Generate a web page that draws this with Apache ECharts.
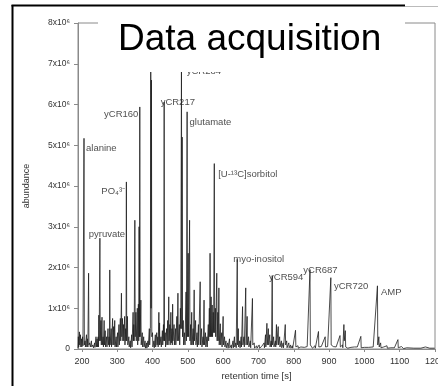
<!DOCTYPE html>
<html>
<head>
<meta charset="utf-8">
<script src="https://cdn.jsdelivr.net/npm/echarts@6/dist/echarts.min.js"></script>
<style>
html,body{margin:0;padding:0;background:#fff;}
#chart{width:438px;height:386px;}
</style>
</head>
<body>
<div id="chart"></div>
<script>
// retention time [s] , abundance [x10^6]
var chromatogram = [
[189,0.02],[190,0.3],[191,0.05],[193,0.42],[194,0.1],[196,0.35],[197,0.05],[199,0.25],[200,0.05],[202,0.3],[203,0.08],[204,0.1],[206,5.17],[207,0.1],[209,0.2],[210,0.05],[213,0.35],[214,0.05],[216,0.25],[217,0.05],[219,1.86],[220,0.1],[222,0.15],[224,0.05],[227,0.2],[228,0.05],[231,0.1],[233,0.03],[236,0.15],[237,0.04],[240,0.3],[241,0.05],[243,0.25],[244,0.05],[246,0.3],[247,0.05],[248,0.83],[249,0.2],[251,2.72],[252,0.2],[254,0.7],[255,0.1],[257,0.78],[258,0.1],[260,0.3],[261,0.05],[263,0.7],[264,0.1],[266,0.45],[267,0.05],[270,0.3],[271,0.05],[274,0.5],[275,0.1],[277,0.3],[278,0.05],[279,1.94],[280,0.1],[283,0.5],[284,0.05],[287,0.75],[288,0.1],[290,0.55],[291,0.1],[293,0.7],[294,0.05],[297,0.3],[298,0.05],[301,0.4],[302,0.05],[305,0.6],[306,0.1],[309,0.75],[310,0.2],[312,1.37],[313,0.3],[315,0.75],[316,0.2],[318,0.6],[319,0.2],[321,0.8],[322,0.1],[324,0.5],[325,0.2],[326,4.1],[327,0.2],[329,0.8],[330,0.1],[333,0.3],[334,0.05],[337,0.2],[338,0.03],[341,0.35],[342,0.05],[345,0.9],[346,0.2],[347,0.6],[348,0.2],[350,3.16],[351,0.3],[353,0.9],[354,0.2],[357,1.0],[358,0.1],[360,1.1],[361,0.2],[362,3.0],[363,0.3],[364,5.94],[365,0.3],[367,1.2],[368,0.1],[371,0.4],[372,0.05],[375,0.3],[376,0.05],[379,0.2],[380,0.02],[383,0.15],[384,0.02],[387,0.2],[388,0.05],[391,0.5],[392,0.1],[394,0.5],[395,6.9],[396,1.0],[397,6.6],[398,0.3],[400,0.4],[401,0.05],[404,0.2],[405,0.03],[408,0.35],[409,0.05],[412,0.4],[413,0.1],[415,0.3],[416,0.05],[418,0.9],[419,0.1],[420,0.64],[421,0.1],[424,0.3],[425,0.05],[428,0.45],[429,0.1],[431,0.6],[432,0.2],[433,6.06],[434,0.2],[436,0.4],[437,0.05],[440,0.5],[441,0.1],[443,0.7],[444,0.1],[446,1.28],[447,0.2],[449,0.6],[450,0.1],[452,0.9],[453,0.15],[455,0.5],[456,0.1],[457,1.1],[458,0.2],[461,0.6],[462,0.1],[465,0.5],[466,0.1],[469,0.8],[470,0.2],[472,1.37],[473,0.2],[476,0.6],[477,0.1],[479,1.0],[480,0.5],[482,7.0],[483,0.5],[484,5.2],[485,0.3],[487,0.7],[488,0.1],[491,0.4],[492,0.1],[495,1.4],[496,0.2],[498,5.82],[499,0.3],[501,2.35],[502,0.3],[505,3.16],[506,0.2],[508,0.6],[509,0.1],[511,0.9],[512,0.1],[515,0.5],[516,0.1],[518,1.45],[519,0.2],[522,0.7],[523,0.1],[526,0.4],[527,0.05],[530,0.6],[531,0.1],[535,1.65],[536,0.1],[539,0.5],[540,0.05],[543,0.3],[544,0.1],[546,1.2],[547,0.1],[550,0.4],[551,0.05],[554,0.3],[555,0.05],[558,0.6],[559,0.2],[561,1.0],[562,0.3],[563,2.35],[564,0.3],[566,1.28],[567,0.3],[569,1.08],[570,0.3],[572,0.9],[573,0.4],[575,4.55],[576,0.4],[578,1.0],[579,0.3],[582,1.86],[583,0.2],[585,0.9],[586,0.2],[588,1.5],[589,0.1],[592,0.62],[593,0.1],[596,0.4],[597,0.05],[600,0.8],[601,0.1],[604,0.3],[605,0.05],[608,0.2],[609,0.03],[613,0.15],[614,0.02],[618,0.25],[619,0.03],[623,0.1],[624,0.02],[628,0.2],[629,0.03],[632,0.3],[633,0.05],[636,0.15],[637,0.03],[640,2.2],[641,0.1],[643,0.5],[644,0.05],[647,0.2],[648,0.03],[651,0.3],[652,0.05],[655,1.04],[656,0.1],[659,0.3],[660,0.05],[664,1.5],[665,0.1],[668,0.8],[669,0.1],[672,0.3],[673,0.05],[677,0.2],[678,0.03],[683,1.24],[684,0.1],[688,0.15],[689,0.02],[695,0.08],[696,0.02],[702,0.1],[703,0.02],[709,0.06],[710,0.02],[716,0.15],[717,0.03],[720,0.35],[721,0.05],[724,0.63],[725,0.1],[728,0.5],[729,0.1],[732,0.35],[733,0.05],[736,0.2],[737,0.05],[739,1.8],[740,0.1],[743,0.3],[744,0.05],[748,0.2],[749,0.05],[751,0.6],[752,0.1],[756,0.55],[757,0.1],[760,0.3],[761,0.05],[765,0.2],[766,0.03],[770,0.15],[771,0.03],[776,0.6],[777,0.1],[780,0.2],[781,0.03],[786,0.15],[787,0.03],[791,0.1],[792,0.02],[796,0.08],[797,0.02],[805,0.46],[806,0.05],[812,0.08],[813,0.02],[820,0.05],[821,0.02],[830,0.04],[831,0.02],[838,0.06],[839,0.02],[846,1.95],[847,0.1],[852,0.1],[853,0.02],[860,0.08],[861,0.02],[870,0.43],[871,0.05],[878,0.06],[879,0.02],[889,0.3],[890,0.05],[896,0.06],[897,0.02],[905,1.75],[906,0.1],[912,0.06],[913,0.02],[920,0.05],[921,0.02],[931,0.33],[932,0.05],[938,0.1],[939,0.03],[942,0.6],[943,0.2],[946,0.45],[947,0.05],[952,0.05],[953,0.02],[962,0.04],[963,0.02],[972,0.05],[973,0.02],[980,0.05],[981,0.02],[990,0.31],[991,0.03],[1000,0.04],[1001,0.02],[1012,0.04],[1013,0.02],[1025,0.05],[1026,0.02],[1037,1.55],[1038,0.1],[1041,0.3],[1042,0.05],[1046,0.15],[1047,0.03],[1055,0.05],[1056,0.02],[1064,0.08],[1065,0.02],[1075,0.03],[1076,0.01],[1085,0.03],[1086,0.01],[1095,0.23],[1096,0.03],[1100,0.06],[1101,0.02],[1105,0.06],[1106,0.02],[1110,0.05],[1111,0.01],[1120,0.03],[1121,0.01],[1140,0.02],[1141,0.01],[1160,0.02],[1161,0.01],[1173,0.05],[1174,0.01],[1185,0.02],[1186,0.01],[1199,0.02]
];

var peakNames  = ['alanine','pyruvate','PO\u2084\u00B3\u207B','yCR160','yCR217','yCR284','glutamate','[U-\u00B9\u00B3C]sorbitol','myo-inositol','yCR594','yCR687','yCR720','AMP'];
var peakLabelT = [211.7, 219.3, 255, 262.7, 423, 497, 505, 586, 629, 730, 827, 914, 1047];
var peakLabelV = [4.93, 2.82, 3.87, 5.76, 6.06, 6.81, 5.55, 4.29, 2.2, 1.76, 1.92, 1.54, 1.38];

var xTickValues = [200,300,400,500,600,700,800,900,1000,1100,1200];
var yTickValues = [0,1,2,3,4,5,6,7,8];

var titleText = 'Data acquisition';
var xName = 'retention time [s]';
var yName = 'abundance';

var FONT = '"Liberation Sans", Arial, Helvetica, sans-serif';

var labelData = peakNames.map(function(n,i){ return [peakLabelT[i], peakLabelV[i], n]; });

var chart = echarts.init(document.getElementById('chart'), null, {renderer:'canvas'});
chart.setOption({
  animation: false,
  backgroundColor: '#fff',
  grid: {left: 78, right: 3, top: 23, bottom: 37, show: true, borderColor: '#8a8a8a', borderWidth: 1,
    containLabel: false, outerBoundsMode: 'none'},
  xAxis: {
    type: 'value', min: 189, max: 1200,
    name: xName, nameLocation: 'middle', nameGap: 22,
    nameTextStyle: {fontFamily: FONT, fontSize: 9.5, color: '#333'},
    axisLine: {show: true, lineStyle: {color: '#8a8a8a', width: 1}},
    axisTick: {show: true, length: 3, customValues: xTickValues, lineStyle: {color: '#8a8a8a'}},
    axisLabel: {customValues: xTickValues, fontFamily: FONT, fontSize: 9, color: '#333', margin: 8, showMaxLabel: true,
      alignMaxLabel: 'center', alignMinLabel: 'center', hideOverlap: false,
      formatter: function(v){ return String(v); }},
    splitLine: {show: false}
  },
  yAxis: {
    type: 'value', min: 0, max: 8, interval: 1,
    name: yName, nameLocation: 'middle', nameGap: 47,
    nameTextStyle: {fontFamily: FONT, fontSize: 9, color: '#333'},
    axisLine: {show: true, lineStyle: {color: '#8a8a8a', width: 1}},
    axisTick: {show: true, length: 4, lineStyle: {color: '#8a8a8a'}},
    axisLabel: {customValues: yTickValues, fontFamily: FONT, fontSize: 8.5, color: '#333', margin: 8,
      formatter: function(v){ return v === 0 ? '0' : v + 'x10\u2076'; }},
    splitLine: {show: false}
  },
  series: [
    {
      type: 'line', data: chromatogram, symbol: 'none', sampling: null,
      lineStyle: {color: '#1e1e1e', width: 0.8}, z: 2, silent: true
    },
    {
      type: 'scatter', data: labelData, symbolSize: 0, z: 3, silent: true,
      label: {show: true, position: [0, 0], align: 'left', verticalAlign: 'middle',
        fontFamily: FONT, fontSize: 9.5, color: '#222',
        formatter: function(p){ return p.data[2]; }}
    }
  ],
  graphic: [
    {type: 'rect', z: 100, shape: {x: 98, y: 8, width: 307, height: 64}, style: {fill: '#fff'}},
    {type: 'text', z: 101, x: 118, y: 40, style: {text: titleText, font: '37px ' + FONT, fill: '#000', verticalAlign: 'middle', align: 'left'}},
    {type: 'line', z: 102, shape: {x1: 12.5, y1: 5, x2: 12.5, y2: 386}, style: {stroke: '#000', lineWidth: 2}},
    {type: 'line', z: 102, shape: {x1: 11.5, y1: 5.5, x2: 405, y2: 5.5}, style: {stroke: '#000', lineWidth: 2}},
    {type: 'line', z: 102, shape: {x1: 405, y1: 6.5, x2: 438, y2: 6.5}, style: {stroke: '#bbb', lineWidth: 1}}
  ]
});
</script>
</body>
</html>
